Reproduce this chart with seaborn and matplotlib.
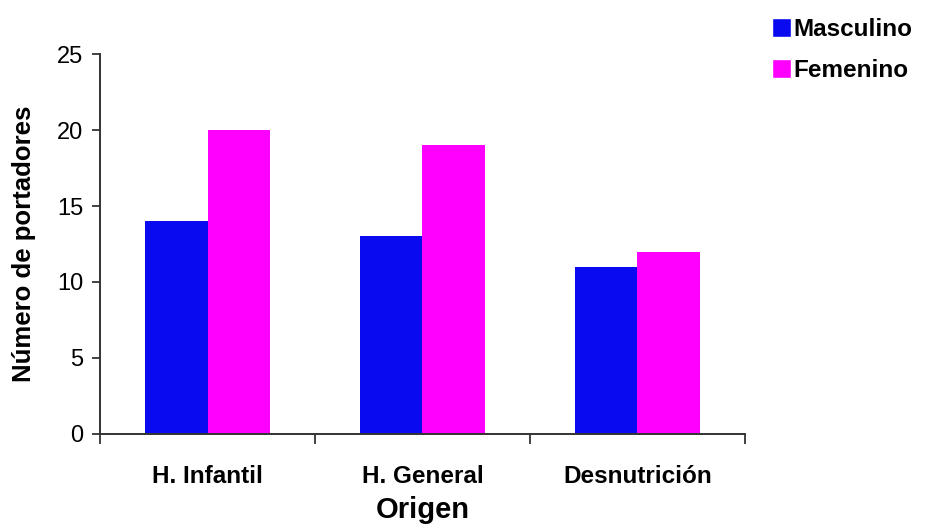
import pandas as pd
import matplotlib.pyplot as plt
import seaborn as sns
from matplotlib.patches import Patch

sns.set_style("white")
plt.rcParams['font.family'] = ['Liberation Sans', 'DejaVu Sans']
plt.rcParams['text.color'] = 'black'
plt.rcParams['axes.labelcolor'] = 'black'
plt.rcParams['xtick.color'] = 'black'
plt.rcParams['ytick.color'] = 'black'

# datos
origen = ["H. Infantil", "H. General", "Desnutrición"]
masculino = [14, 13, 11]
femenino = [20, 19, 12]
sexos = ["Masculino", "Femenino"]
colores = ["#0A0AF0", "#FF00FF"]

df = pd.DataFrame({
    "Origen": origen * 2,
    "valor": masculino + femenino,
    "sexo": [sexos[0]] * 3 + [sexos[1]] * 3,
})

fig = plt.figure(figsize=(9.26, 5.27), dpi=100)
ax = fig.add_axes([0.108, 0.1765, 0.6965, 0.721])

sns.barplot(data=df, x="Origen", y="valor", hue="sexo", palette=colores,
            width=0.58, saturation=1, legend=False, linewidth=0, ax=ax)

ax.set_xlim(-0.5, 2.5)
ax.set_ylim(0, 25)
ax.set_yticks(range(0, 26, 5))
ax.set_xticks([-0.5, 0.5, 1.5, 2.5])
ax.set_xticklabels([])
ax.set_xticks([0, 1, 2], minor=True)
ax.set_xticklabels(origen, minor=True, fontsize=17.5, fontweight="bold")
ax.tick_params(axis="x", which="minor", bottom=False, length=0, pad=22)
ax.tick_params(axis="x", which="major", bottom=True, length=7, width=1.3,
               direction="out", color="#333333")
ax.tick_params(axis="y", left=True, length=6, width=1.3, direction="out",
               color="#333333", labelsize=17, pad=6)

for s in ["top", "right"]:
    ax.spines[s].set_visible(False)
for s in ["left", "bottom"]:
    ax.spines[s].set_color("#333333")
    ax.spines[s].set_linewidth(1.4)

ax.set_xlabel("Origen", fontsize=21, fontweight="bold", labelpad=6)
ax.set_ylabel("Número de portadores", fontsize=18.5, fontweight="bold", labelpad=15)

handles = [Patch(facecolor=c, label=l) for c, l in zip(colores, sexos)]
fig.legend(handles=handles, loc="upper left", bbox_to_anchor=(0.81, 1.008),
           frameon=False, prop={"size": 17.5, "weight": "bold"},
           handlelength=0.8, handleheight=0.8, handletextpad=0.1, labelspacing=0.75)

fig.savefig("out.png", dpi=100)
